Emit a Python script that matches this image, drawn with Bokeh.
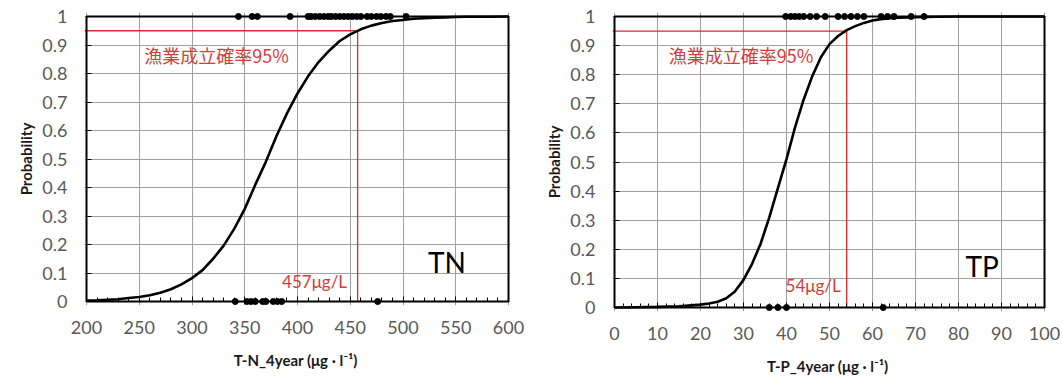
from bokeh.plotting import figure
from bokeh.layouts import row
from bokeh.models import FixedTicker, Range1d
from bokeh.core.properties import value
from bokeh.embed import file_html
from bokeh.resources import INLINE

# ---------------- data ----------------
# TN logistic curve
tn_x = [200, 210, 220, 230, 240, 250, 260, 270, 280, 290, 300, 310, 320, 330, 340,
        350, 360, 370, 380, 390, 400, 410, 420, 430, 440, 450, 460, 470, 480, 490,
        500, 510, 520, 530, 540, 550, 560, 580, 600]
tn_p = [0.003, 0.004, 0.006, 0.008, 0.012, 0.016, 0.022, 0.031, 0.043, 0.060, 0.082,
        0.110, 0.150, 0.196, 0.255, 0.325, 0.410, 0.490, 0.580, 0.660, 0.730, 0.790,
        0.840, 0.880, 0.914, 0.937, 0.955, 0.968, 0.977, 0.984, 0.988, 0.992, 0.994,
        0.996, 0.997, 0.998, 0.999, 0.999, 1.000]
tn_obs_success = [344, 357, 362, 393, 410, 413, 417, 421, 425, 429, 432, 436, 440, 444,
                  448, 452, 456, 460, 466, 470, 475, 479, 484, 488, 503]
tn_obs_fail = [341, 352, 356, 360, 367, 370, 377, 381, 385, 476]
tn_threshold = 457

# TP logistic curve
tp_x = [0, 5, 10, 15, 20, 22, 24, 26, 28, 30, 32, 34, 36, 38, 40, 42, 44, 46, 48, 50,
        52, 54, 56, 58, 60, 62, 64, 66, 70, 75, 80, 100]
tp_p = [0.000, 0.001, 0.002, 0.004, 0.010, 0.014, 0.020, 0.032, 0.055, 0.095, 0.150,
        0.220, 0.310, 0.410, 0.510, 0.620, 0.715, 0.795, 0.860, 0.905, 0.933, 0.953,
        0.967, 0.978, 0.986, 0.991, 0.994, 0.996, 0.998, 0.999, 1.000, 1.000]
tp_obs_success = [39.8, 41, 42, 43, 44, 45.5, 47, 49, 52, 53.5, 55, 56.5, 58, 62, 63.5,
                  65, 69, 72]
tp_obs_fail = [36, 38, 40, 62.5]
tp_threshold = 54

prob_level = 0.95
y_ticks = [0, 0.1, 0.2, 0.3, 0.4, 0.5, 0.6, 0.7, 0.8, 0.9, 1]
tn_ticks = [200, 250, 300, 350, 400, 450, 500, 550, 600]
tp_ticks = [0, 10, 20, 30, 40, 50, 60, 70, 80, 90, 100]

RED = "#e02828"
TXT_RED = "#d23c3c"
FONT = "Lato"
CJK = "Noto Sans CJK JP"
PADX = 2   # px of room around the 0-1 box so the dots are not clipped
PADY = 4


def make_panel(xs, ps, succ, fail, thr, ticks, xlabel, tag, thr_label,
               fw, fh, bl, br, bt, bb, lbl_pos, thr_pos, tag_pos):
    x0, x1 = ticks[0], ticks[-1]
    dx = PADX * (x1 - x0) / (fw - 2 * PADX)
    dy = PADY / (fh - 2 * PADY)
    p = figure(frame_width=fw, frame_height=fh,
               min_border_left=bl, min_border_right=br, min_border_top=bt,
               min_border_bottom=bb, x_range=Range1d(x0 - dx, x1 + dx),
               y_range=Range1d(-dy, 1 + dy),
               output_backend="svg", toolbar_location=None)
    p.outline_line_color = None
    p.background_fill_color = "white"
    p.border_fill_color = "white"

    p.xgrid.ticker = FixedTicker(ticks=ticks)
    p.ygrid.ticker = FixedTicker(ticks=y_ticks)
    for g in (p.xgrid, p.ygrid):
        g.grid_line_color = "#a0a0a0"
        g.grid_line_width = 1

    step = ticks[1] - ticks[0]
    minor = [ticks[0] + step / 5 * i for i in range(int(round((x1 - x0) / (step / 5))) + 1)]
    p.xaxis.ticker = FixedTicker(ticks=ticks, minor_ticks=minor)
    p.yaxis.ticker = FixedTicker(ticks=y_ticks)
    p.yaxis.major_label_overrides = {0: "0", 1: "1"}

    for ax in (p.xaxis, p.yaxis):
        ax.axis_line_color = None
        ax.major_tick_line_color = "black"
        ax.major_tick_line_width = 1
        ax.major_label_text_font = FONT
        ax.major_label_text_font_size = "18px"
        ax.major_label_text_color = "#595959"
        ax.axis_label_text_font = FONT
        ax.axis_label_text_font_style = "bold"
        ax.axis_label_text_color = "#1a1a1a"
        ax.axis_label_text_font_size = "15px"
    p.xaxis.major_tick_out = -PADY
    p.xaxis.major_tick_in = PADY + 5
    p.xaxis.minor_tick_out = -PADY
    p.xaxis.minor_tick_in = PADY + 4
    p.xaxis.minor_tick_line_color = "black"
    p.yaxis.major_tick_out = -PADX
    p.yaxis.major_tick_in = PADX + 5
    p.yaxis.minor_tick_line_color = None
    p.xaxis.major_label_standoff = 19
    p.yaxis.major_label_standoff = 17
    p.xaxis.axis_label = xlabel
    p.yaxis.axis_label = "Probability"
    p.xaxis.axis_label_standoff = 14
    p.yaxis.axis_label_standoff = 4

    # 95% guide lines
    p.line([x0 - dx, thr, thr], [prob_level, prob_level, 0], line_color=RED, line_width=1.3)

    # plot box
    p.line([x0, x1, x1, x0, x0], [0, 0, 1, 1, 0], line_color="black", line_width=2)

    # curve
    p.line(xs, ps, line_color="black", line_width=2.6)

    # observations
    p.scatter(succ, [1] * len(succ), size=6, color="black")
    p.scatter(fail, [0] * len(fail), size=6, color="black")

    p.text([lbl_pos[0]], [lbl_pos[1]], text=["漁業成立確率95%"], text_font=value(CJK),
           text_font_size="18px", text_color=TXT_RED, text_baseline="middle",
           text_align="left")
    p.text([thr_pos[0]], [thr_pos[1]], text=[thr_label], text_font=value(FONT),
           text_font_size="17px", text_color=TXT_RED, text_baseline="middle",
           text_align="right")
    p.text([tag_pos[0]], [tag_pos[1]], text=[tag], text_font=value(FONT),
           text_font_size="28px", text_color="black", text_baseline="middle",
           text_align="center")
    return p


left = make_panel(tn_x, tn_p, tn_obs_success, tn_obs_fail, tn_threshold, tn_ticks,
                  "T-N_4year  (μg · l⁻¹)", "TN", f"{tn_threshold}μg/L",
                  fw=426, fh=293, bl=84, br=16, bt=12, bb=70,
                  lbl_pos=(254.7, 0.864), thr_pos=(447, 0.07), tag_pos=(541.7, 0.14))
right = make_panel(tp_x, tp_p, tp_obs_success, tp_obs_fail, tp_threshold, tp_ticks,
                   "T-P_4year  (μg · l⁻¹)", "TP", f"{tp_threshold}μg/L",
                   fw=434, fh=299, bl=86, br=14, bt=8, bb=72,
                   lbl_pos=(12.6, 0.866), thr_pos=(52.6, 0.076), tag_pos=(85.5, 0.141))

layout = row(left, right)
open("out.html", "w").write(file_html(layout, INLINE))
